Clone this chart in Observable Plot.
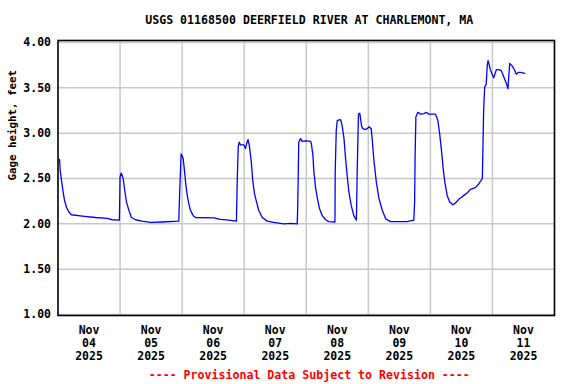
<!DOCTYPE html>
<html>
<head>
<meta charset="utf-8">
<script src="https://cdn.jsdelivr.net/npm/d3@7"></script>
<script src="https://cdn.jsdelivr.net/npm/@observablehq/plot@0.6"></script>
<style>
  html, body { margin: 0; padding: 0; background: #fff; }
</style>
</head>
<body>
<div id="chart"></div>
<script>
const title = "USGS 01168500 DEERFIELD RIVER AT CHARLEMONT, MA";
const yLabel = "Gage height, feet";
const caption = "---- Provisional Data Subject to Revision ----";

const days = ["2025-11-04","2025-11-05","2025-11-06","2025-11-07","2025-11-08","2025-11-09","2025-11-10","2025-11-11","2025-11-12"];
const dayLabels = ["Nov\n04\n2025","Nov\n05\n2025","Nov\n06\n2025","Nov\n07\n2025","Nov\n08\n2025","Nov\n09\n2025","Nov\n10\n2025","Nov\n11\n2025"];
const yTicks = [1.0, 1.5, 2.0, 2.5, 3.0, 3.5, 4.0];

const times = [
  "2025-11-04T00:36","2025-11-04T00:51","2025-11-04T01:21","2025-11-04T01:54","2025-11-04T02:30","2025-11-04T03:18","2025-11-04T04:12","2025-11-04T05:12","2025-11-04T09:24","2025-11-04T14:30","2025-11-04T19:00","2025-11-04T21:00","2025-11-04T23:45",
  "2025-11-05T00:00","2025-11-05T00:27","2025-11-05T01:12","2025-11-05T01:48","2025-11-05T02:30","2025-11-05T03:24","2025-11-05T04:24","2025-11-05T06:00","2025-11-05T08:30","2025-11-05T11:48","2025-11-05T16:18","2025-11-05T22:42","2025-11-05T23:06","2025-11-05T23:36",
  "2025-11-06T00:00","2025-11-06T00:24","2025-11-06T00:54","2025-11-06T01:24","2025-11-06T02:00","2025-11-06T02:36","2025-11-06T03:12","2025-11-06T04:18","2025-11-06T05:12","2025-11-06T12:18","2025-11-06T14:48","2025-11-06T18:00","2025-11-06T21:00","2025-11-06T21:18","2025-11-06T21:42","2025-11-06T22:06","2025-11-06T22:36","2025-11-06T23:54",
  "2025-11-07T00:30","2025-11-07T00:54","2025-11-07T01:30","2025-11-07T02:00","2025-11-07T02:42","2025-11-07T03:18","2025-11-07T04:00","2025-11-07T04:48","2025-11-07T05:36","2025-11-07T07:00","2025-11-07T08:54","2025-11-07T11:24","2025-11-07T15:18","2025-11-07T17:54","2025-11-07T20:30","2025-11-07T20:42","2025-11-07T21:06","2025-11-07T21:48","2025-11-07T22:24","2025-11-07T23:42",
  "2025-11-08T01:42","2025-11-08T02:00","2025-11-08T02:36","2025-11-08T02:54","2025-11-08T03:36","2025-11-08T04:18","2025-11-08T05:06","2025-11-08T06:12","2025-11-08T07:30","2025-11-08T08:42","2025-11-08T11:06","2025-11-08T11:12","2025-11-08T11:36","2025-11-08T12:00","2025-11-08T13:18","2025-11-08T13:54","2025-11-08T14:36","2025-11-08T15:12","2025-11-08T15:54","2025-11-08T16:30","2025-11-08T17:24","2025-11-08T18:24","2025-11-08T19:24","2025-11-08T19:42","2025-11-08T20:00","2025-11-08T20:12","2025-11-08T20:42","2025-11-08T21:24","2025-11-08T21:54","2025-11-08T22:54","2025-11-08T23:36",
  "2025-11-09T00:12","2025-11-09T01:06","2025-11-09T01:30","2025-11-09T02:06","2025-11-09T03:06","2025-11-09T04:06","2025-11-09T05:24","2025-11-09T06:42","2025-11-09T08:36","2025-11-09T15:00","2025-11-09T17:36","2025-11-09T17:54","2025-11-09T18:06","2025-11-09T18:24","2025-11-09T19:12","2025-11-09T20:12","2025-11-09T21:30","2025-11-09T22:24","2025-11-09T23:24",
  "2025-11-10T01:18","2025-11-10T02:00","2025-11-10T02:54","2025-11-10T03:36","2025-11-10T04:18","2025-11-10T04:54","2025-11-10T05:36","2025-11-10T06:30","2025-11-10T07:30","2025-11-10T08:42","2025-11-10T09:42","2025-11-10T11:00","2025-11-10T12:18","2025-11-10T14:12","2025-11-10T15:30","2025-11-10T17:24","2025-11-10T18:42","2025-11-10T20:06","2025-11-10T20:18","2025-11-10T20:36","2025-11-10T21:00","2025-11-10T21:36","2025-11-10T22:00","2025-11-10T22:18","2025-11-10T22:42","2025-11-10T23:12","2025-11-10T23:54",
  "2025-11-11T00:30","2025-11-11T01:30","2025-11-11T02:30","2025-11-11T03:24","2025-11-11T04:24","2025-11-11T05:30","2025-11-11T06:00","2025-11-11T06:18","2025-11-11T06:42","2025-11-11T07:42","2025-11-11T08:30","2025-11-11T09:12","2025-11-11T10:00","2025-11-11T10:54","2025-11-11T12:30"
];
const gageHeight = [
  2.71,2.59,2.48,2.37,2.26,2.18,2.13,2.10,2.085,2.07,2.06,2.045,2.04,
  2.52,2.56,2.50,2.37,2.24,2.15,2.07,2.045,2.03,2.015,2.02,2.03,2.39,2.77,
  2.75,2.72,2.59,2.44,2.31,2.22,2.15,2.09,2.07,2.065,2.05,2.04,2.03,2.46,2.85,2.90,2.87,2.87,
  2.83,2.88,2.93,2.86,2.70,2.48,2.33,2.24,2.15,2.07,2.03,2.015,2.00,2.005,2.00,2.18,2.90,2.94,2.91,2.915,
  2.91,2.88,2.75,2.59,2.40,2.28,2.17,2.09,2.045,2.025,2.02,2.57,3.03,3.14,3.15,3.08,2.94,2.72,2.51,2.35,2.20,2.09,2.04,2.57,2.97,3.21,3.22,3.08,3.05,3.04,3.05,
  3.07,3.05,2.94,2.72,2.46,2.28,2.15,2.055,2.025,2.025,2.04,2.24,2.75,3.18,3.23,3.21,3.215,3.23,3.21,
  3.21,3.21,3.14,2.99,2.81,2.62,2.46,2.31,2.24,2.21,2.23,2.27,2.30,2.34,2.38,2.40,2.44,2.50,2.81,3.25,3.51,3.54,3.75,3.80,3.76,3.70,3.65,
  3.61,3.70,3.70,3.69,3.62,3.54,3.49,3.62,3.77,3.74,3.70,3.65,3.67,3.67,3.66
];

const parseLocal = s => new Date(s.length === 10 ? s + "T00:00" : s);
const data = times.map((t, i) => ({date: parseLocal(t), value: gageHeight[i]}));
const midnights = days.map(parseLocal);
const noons = days.slice(0, -1).map(d => parseLocal(d + "T12:00"));
const labelData = noons.map((d, i) => ({date: d, label: dayLabels[i]}));

const font = "DejaVu Sans Mono";

const chart = Plot.plot({
  width: 576,
  height: 384,
  marginLeft: 57.5,
  marginRight: 22,
  marginTop: 40,
  marginBottom: 69,
  style: {fontFamily: font, fontWeight: "bold", fontSize: "11.5px", background: "#fff", overflow: "visible"},
  x: {type: "time", domain: [midnights[0], midnights[midnights.length - 1]], range: [57.5, 554], axis: null},
  y: {domain: [1, 4], range: [314, 42], axis: null},
  marks: [
    Plot.gridY(yTicks, {stroke: "#c8c8c8", strokeOpacity: 1, strokeWidth: 1.5}),
    Plot.gridX(midnights.slice(1, -1), {stroke: "#c8c8c8", strokeOpacity: 1, strokeWidth: 1.5}),
    Plot.line(data, {x: "date", y: "value", stroke: "#0000ff", strokeWidth: 1.3}),
    Plot.frame({stroke: "#000", strokeWidth: 1.6}),
    Plot.axisY(yTicks, {tickSize: 0, tickPadding: 7, tickFormat: d => d.toFixed(2), label: null,
      fill: "#000", fontFamily: font, fontWeight: "bold", fontSize: 11.5}),
    Plot.text(labelData, {x: "date", text: "label", frameAnchor: "bottom", lineAnchor: "top",
      dy: 9, lineHeight: 1.13, fill: "#000", fontFamily: font, fontWeight: "bold", fontSize: 11.5}),
    Plot.text([title], {frameAnchor: "top", lineAnchor: "middle", dx: 3, dy: -20, fill: "#000",
      fontFamily: font, fontWeight: "bold", fontSize: 11.6}),
    Plot.text([yLabel], {frameAnchor: "left", rotate: -90, dx: -45, dy: 2.5, fill: "#000",
      fontFamily: font, fontWeight: "bold", fontSize: 10.8}),
    Plot.text([caption], {frameAnchor: "bottom", lineAnchor: "middle", dx: 3, dy: 60, fill: "#ff0000",
      fontFamily: font, fontWeight: "bold", fontSize: 11.6})
  ]
});
document.getElementById("chart").appendChild(chart);
</script>
</body>
</html>
